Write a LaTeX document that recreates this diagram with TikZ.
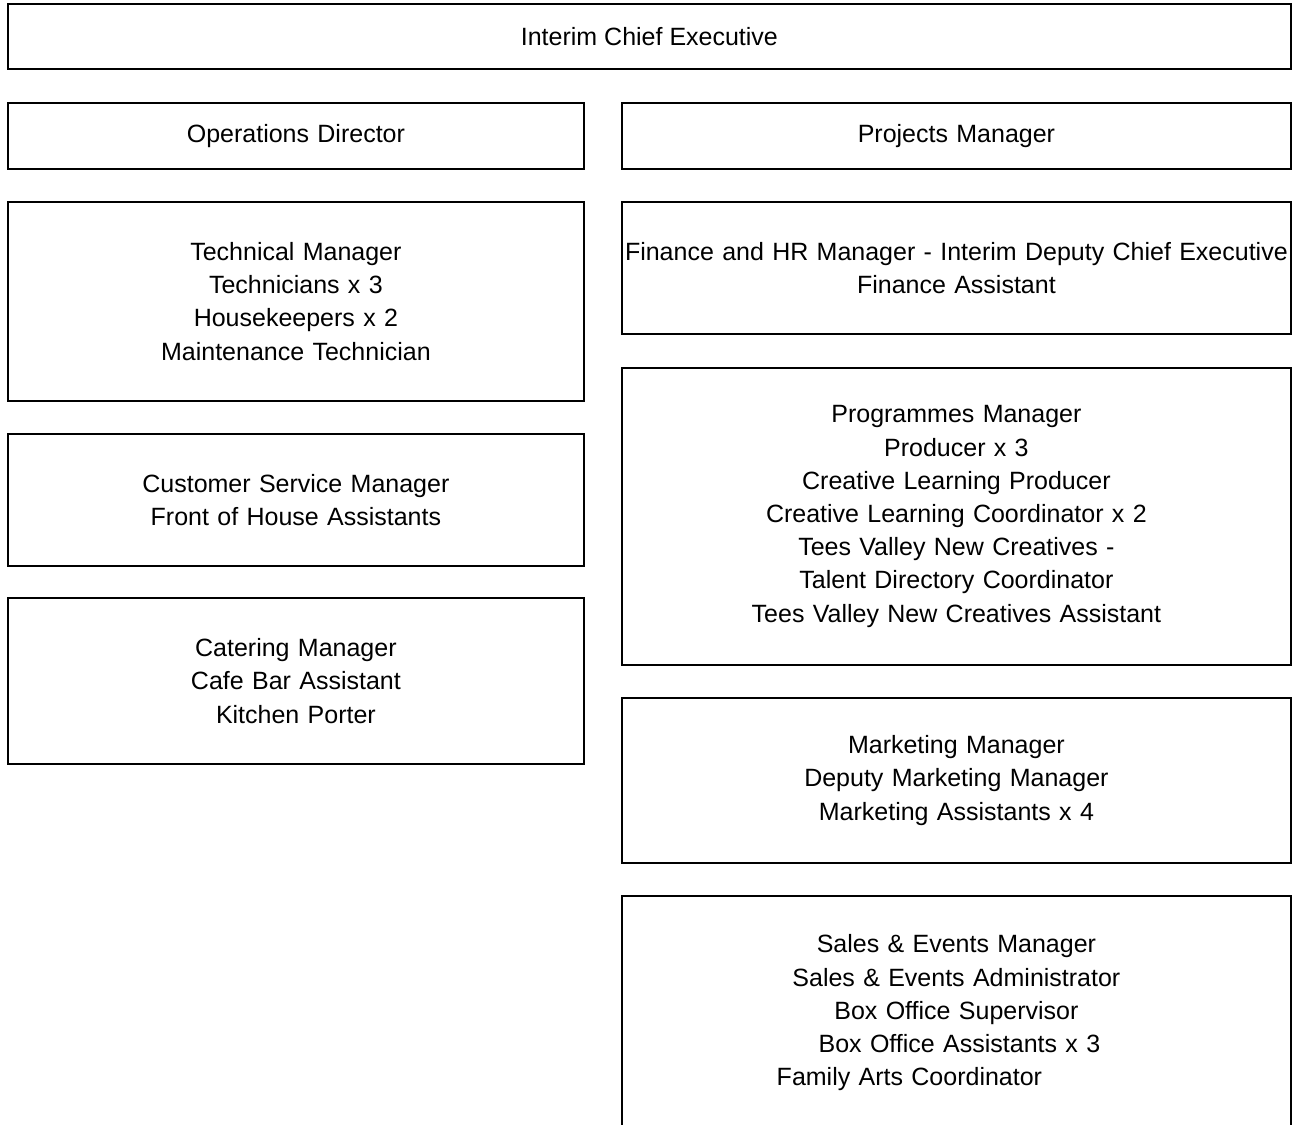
\documentclass[tikz,border=0pt]{standalone}
\usepackage{fontspec}
\setmainfont{Liberation Sans}
\begin{document}
\begin{tikzpicture}[x=1pt,y=-1pt,
  box/.style={draw=black, line width=1.8pt, rectangle, anchor=north west, inner sep=0pt,
    align=center, font=\fontsize{25}{33.2}\selectfont},
  lbox/.style={box, minimum width=576, text width=560},
  rbox/.style={box, minimum width=669, text width=669}]
\clip (0,0) rectangle (1292,1124);
\fill[white] (0,0) rectangle (1292,1124);
\node[box, minimum width=1283, minimum height=65] (ce) at (7,3) {Interim Chief Executive};
\node[lbox, minimum height=66] (ops) at (7,102) {Operations Director};
\node[rbox, minimum height=66] (pm) at (621,102) {Projects Manager};
\node[lbox, minimum height=199] (tech) at (7,201) {Technical Manager\\Technicians x 3\\Housekeepers x 2\\Maintenance Technician};
\node[rbox, minimum height=132] (fin) at (621,201) {Finance and HR Manager - Interim Deputy Chief Executive\\Finance Assistant};
\node[lbox, minimum height=132] (cs) at (7,433) {Customer Service Manager\\Front of House Assistants};
\node[rbox, minimum height=297] (prog) at (621,367) {Programmes Manager\\Producer x 3\\Creative Learning Producer\\Creative Learning Coordinator x 2\\Tees Valley New Creatives -\\Talent Directory Coordinator\\Tees Valley New Creatives Assistant};
\node[lbox, minimum height=166] (cat) at (7,597) {Catering Manager\\Cafe Bar Assistant\\Kitchen Porter};
\node[rbox, minimum height=165] (mkt) at (621,697) {Marketing Manager\\Deputy Marketing Manager\\Marketing Assistants x 4};
\node[rbox, minimum height=234] (sales) at (621,895) {Sales \& Events Manager\\Sales \& Events Administrator\\Box Office Supervisor\\\rule{6pt}{0pt}Box Office Assistants x 3\\Family Arts Coordinator\rule{94pt}{0pt}};
\end{tikzpicture}
\end{document}
